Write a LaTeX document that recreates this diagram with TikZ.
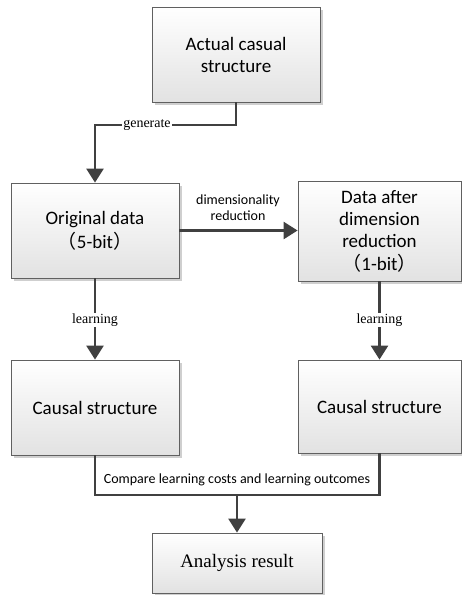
\documentclass[tikz,border=0pt]{standalone}
\usepackage{fontspec}
\setmainfont{Carlito}
\newfontfamily\tnr{Liberation Serif}
\newfontfamily\cjk{Noto Sans CJK SC}
\usetikzlibrary{arrows.meta,shadows}
\definecolor{boxline}{HTML}{606060}
\definecolor{boxfill}{HTML}{E2E2E2}
\definecolor{shadowgray}{HTML}{CFCFCF}
\definecolor{linecol}{HTML}{404040}
\begin{document}
\begin{tikzpicture}[x=1pt,y=-1pt,
  box/.style={draw=boxline, line width=0.8pt, top color=white, bottom color=boxfill,
    drop shadow={shadow xshift=2.5pt, shadow yshift=-2.5pt, fill=shadowgray, opacity=1},
    align=center, font=\fontsize{19}{22}\selectfont, inner sep=0pt},
  conn/.style={draw=linecol, line width=2.5pt},
  arr/.style={conn, -{Triangle[width=17pt,length=14pt]}},
  lbl/.style={font=\tnr\fontsize{14}{16}\selectfont, fill=white, inner sep=1pt},
  clbl/.style={font=\fontsize{14}{16}\selectfont, align=center, inner sep=0pt}]
\useasboundingbox (0,0) rectangle (462,595);
\node[box, minimum width=168pt, minimum height=95pt] (act) at (236,54.5) {Actual casual\\structure};
\node[box, minimum width=168pt, minimum height=95pt] (orig) at (95,230.5) {Original data\\[2pt]{\cjk （}5-bit{\cjk ）}};
\node[box, minimum width=163pt, minimum height=100pt] (red) at (379.5,231) {Data after\\dimension\\reduction\\[1pt]{\cjk （}1-bit{\cjk ）}};
\node[box, minimum width=168pt, minimum height=95pt] (cs1) at (95,407.5) {Causal structure};
\node[box, minimum width=163pt, minimum height=93pt] (cs2) at (379.5,406.5) {Causal structure};
\node[box, minimum width=170pt, minimum height=60pt, font=\tnr\fontsize{19}{22}\selectfont] (res) at (237,563) {Analysis result};
\coordinate (g1) at (237,125);
\coordinate (m) at (237,495);
\draw[arr] (act.south) |- (orig.north |- g1) -- (orig.north);
\draw[arr] (orig.east) -- (red.west |- orig.east);
\draw[arr] (orig.south) -- (cs1.north);
\draw[arr] (red.south) -- (cs2.north);
\draw[conn] (cs1.south) |- (m) -| (cs2.south);
\draw[arr] (m) -- (res.north);
\node[lbl] (gen) at (147,125) {generate};
\node[clbl] (dimred) at (238,208) {dimensionality\\reduction};
\node[lbl] (l1) at (95,320) {learning};
\node[lbl] (l2) at (379.5,320) {learning};
\node[clbl] (cmp) at (237,480) {Compare learning costs and learning outcomes};
\end{tikzpicture}
\end{document}
